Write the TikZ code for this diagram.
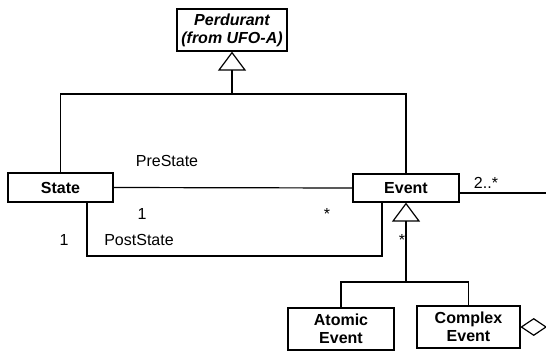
\documentclass[tikz,border=0pt]{standalone}
\usepackage{fontspec}
\setmainfont{Liberation Sans}
\usetikzlibrary{arrows.meta,shapes.geometric}
\begin{document}
\begin{tikzpicture}[x=1pt, y=-1pt, line width=1.2pt, line join=miter,
	inh/.style={-{Triangle[open,length=19pt,width=28pt,line width=1.2pt]}}]
	\tikzset{class/.style={draw, align=center, inner sep=2pt, font=\fontsize{16}{18}\selectfont\bfseries},
		lbl/.style={inner sep=0pt, font=\fontsize{16}{18}\selectfont}}
	\useasboundingbox (0,0) rectangle (546,351);
	% classes
	\node[class, minimum width=110pt, minimum height=42pt, font=\fontsize{16}{18}\selectfont\bfseries\itshape] (perdurant) at (232,30) {Perdurant\\(from UFO-A)};
	\node[class, minimum width=105pt, minimum height=29pt] (state) at (60.5,187.5) {State};
	\node[class, minimum width=106pt, minimum height=28pt] (event) at (406,188) {Event};
	\node[class, minimum width=106pt, minimum height=42pt] (atomic) at (341,329) {Atomic\\Event};
	\node[class, minimum width=103pt, minimum height=42pt] (complex) at (468.5,327) {Complex\\Event};
	% generalisations
	\coordinate (top) at (232,94);
	\draw (state.north) |- (top) -| (event.north);
	\draw[inh] (top) -- (perdurant.south);
	\coordinate (split) at (406,282);
	\draw[inh] (split) -- (event.south);
	\draw (atomic.north) |- (split) -| (complex.north);
	% associations
	\draw (state.east) -- (event.west);
	\coordinate (postL) at (87,256);
	\coordinate (postR) at (382,256);
	\draw (postL |- state.south) -- (postL) -- (postR) -- (postR |- event.south);
	\coordinate (rightend) at (546,193);
	\draw (event.east |- rightend) -- (rightend);
	\node[draw, diamond, aspect=1.5, minimum width=25pt, minimum height=17pt, inner sep=0pt, anchor=west] (whole) at (complex.east) {};
	% labels
	\node[lbl] (pre) at (167,161) {PreState};
	\node[lbl] (preone) at (142,214) {1};
	\node[lbl] (premany) at (327,214) {*};
	\node[lbl] (postone) at (64,240) {1};
	\node[lbl] (post) at (139,240) {PostState};
	\node[lbl] (submany) at (402,240) {*};
	\node[lbl] (partmany) at (486,183) {2..*};
\end{tikzpicture}
\end{document}
